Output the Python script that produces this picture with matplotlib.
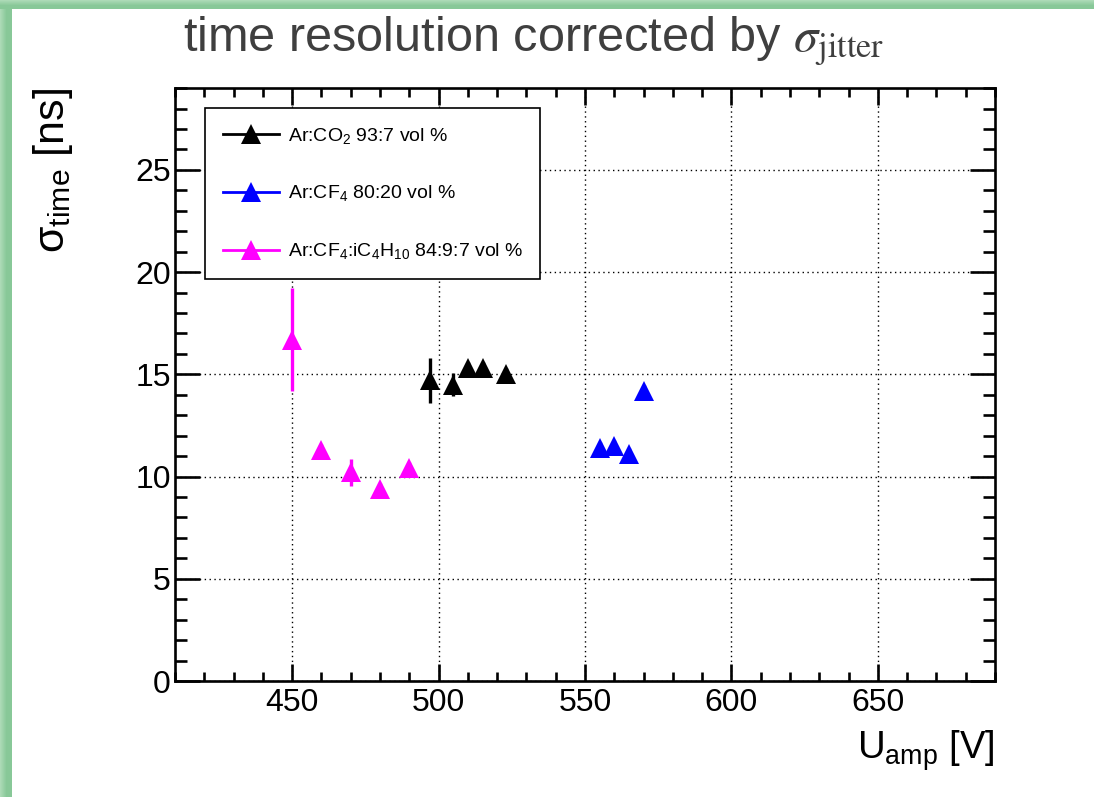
import numpy as np
import matplotlib
matplotlib.use("Agg")
import matplotlib.pyplot as plt
from matplotlib.ticker import MultipleLocator
from matplotlib.lines import Line2D

plt.rcParams['font.family'] = ['Liberation Sans', 'DejaVu Sans']
plt.rcParams['mathtext.fontset'] = 'custom'
plt.rcParams['mathtext.rm'] = 'Liberation Sans'
plt.rcParams['mathtext.it'] = 'Liberation Sans:italic'
plt.rcParams['mathtext.bf'] = 'Liberation Sans:bold'

# U_amp [V], sigma_time [ns], error [ns]
u_co2 = [497, 505, 510, 515, 523]
t_co2 = [14.7, 14.5, 15.3, 15.3, 15.0]
e_co2 = [1.1, 0.55, 0.3, 0.3, 0.3]

u_cf4 = [555, 560, 565, 570]
t_cf4 = [11.4, 11.5, 11.1, 14.2]
e_cf4 = [0.3, 0.3, 0.3, 0.3]

u_mix = [450, 460, 470, 480, 490]
t_mix = [16.7, 11.3, 10.2, 9.4, 10.4]
e_mix = [2.5, 0.3, 0.67, 0.3, 0.3]

labels = ['Ar:CO$_2$ 93:7 vol %',
          'Ar:CF$_4$ 80:20 vol %',
          'Ar:CF$_4$:iC$_4$H$_{10}$ 84:9:7 vol %']
colors = ['black', '#0000ff', '#ff00ff']

fig = plt.figure(figsize=(10.94, 7.97), dpi=100)

# green slide border (top and left bands)
bg = fig.add_axes([0, 0, 1, 1], zorder=-5)
bg.axis('off')
H, W = 797, 1094
img = np.ones((H, W, 3))
c_in = np.array([136, 200, 152]) / 255.0
c_out = np.array([172, 218, 182]) / 255.0
for i in range(12):
    f = min(i / 6.0, 1.0)
    img[:, i] = c_out * (1 - f) + c_in * f
for j in range(9):
    f = min(j / 5.0, 1.0)
    img[j, :] = c_out * (1 - f) + c_in * f
bg.imshow(img, extent=[0, 1, 0, 1], aspect='auto', interpolation='nearest')
bg.set_xlim(0, 1)
bg.set_ylim(0, 1)

ax = fig.add_axes([0.160, 0.1455, 0.7495, 0.744])

for u, t, e, c in [(u_co2, t_co2, e_co2, colors[0]),
                   (u_cf4, t_cf4, e_cf4, colors[1]),
                   (u_mix, t_mix, e_mix, colors[2])]:
    ax.errorbar(u, t, yerr=e, fmt='^', color=c, ms=15, elinewidth=2.4,
                capsize=0, mew=0, zorder=3)

ax.set_xlim(410, 690)
ax.set_ylim(0, 29)
ax.xaxis.set_major_locator(MultipleLocator(50))
ax.xaxis.set_minor_locator(MultipleLocator(10))
ax.yaxis.set_major_locator(MultipleLocator(5))
ax.yaxis.set_minor_locator(MultipleLocator(1))
ax.grid(True, which='major', color='black', linestyle=(0, (1, 2.5)), linewidth=1.0)

ax.tick_params(which='both', direction='in', top=True, right=True, width=1.9,
               labelsize=23)
ax.tick_params(axis='x', which='major', length=12, pad=5)
ax.tick_params(axis='x', which='minor', length=6.5)
ax.tick_params(axis='y', which='major', length=18, pad=3)
ax.tick_params(axis='y', which='minor', length=8.5)
for s in ax.spines.values():
    s.set_linewidth(1.9)

ax.set_xlabel('$\\mathrm{U}_{\\mathrm{amp}}$ [V]', fontsize=27.5, loc='right')
ax.xaxis.set_label_coords(1.0, -0.08)
ax.set_ylabel('$\\mathrm{σ}_{\\mathrm{time}}$ [ns]', fontsize=31, loc='top')
ax.yaxis.set_label_coords(-0.122, 1.0)

handles = [Line2D([], [], color=c, lw=2, marker='^', ms=15, mew=0)
           for c in colors]
leg = ax.legend(handles, labels, loc='upper left', fontsize=14.0,
                bbox_to_anchor=(0.0366, 0.9663), frameon=True, fancybox=False,
                edgecolor='black', framealpha=1, borderpad=0.9,
                labelspacing=1.95, handlelength=2.9, handletextpad=0.45,
                borderaxespad=0)
leg.get_frame().set_linewidth(1.2)
leg.set_zorder(5)

fig.text(0.488, 0.935, 'time resolution corrected by $\\sigma_{\\mathrm{jitter}}$',
         fontsize=35, color='#3f3f3f', ha='center', va='baseline',
         family=['Liberation Sans Narrow', 'Liberation Sans'],
         math_fontfamily='stix')

fig.savefig('out.png', dpi=100)
